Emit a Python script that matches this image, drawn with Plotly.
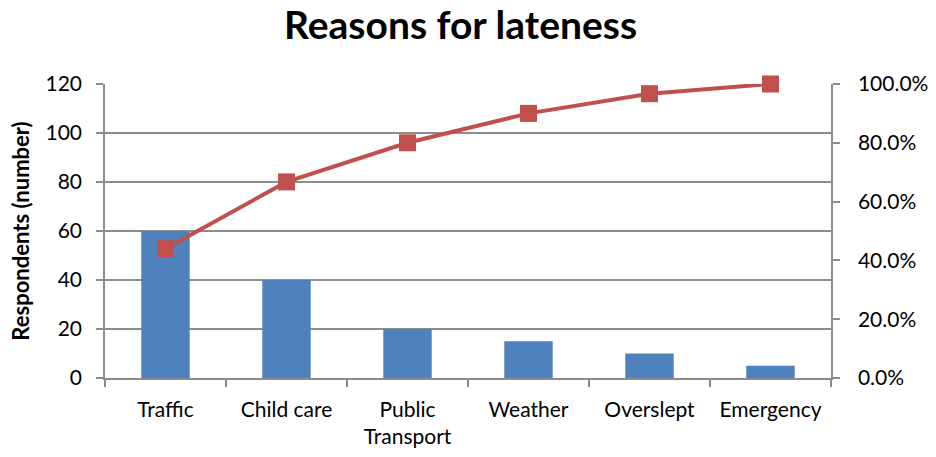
import plotly.graph_objects as go

# Reasons given for arriving late, sorted by frequency (Pareto order)
categories = ["Traffic", "Child care", "Public<br>Transport", "Weather", "Overslept", "Emergency"]
respondents = [60, 40, 20, 15, 10, 5]
cumulative_share = [0.44, 0.667, 0.80, 0.90, 0.967, 1.0]

left_ticks = [0, 20, 40, 60, 80, 100, 120]
right_ticks = [0.0, 0.2, 0.4, 0.6, 0.8, 1.0]

FONT = "Lato, 'Open Sans', sans-serif"
AXIS_GREY = "#8c8c8c"
BAR_BLUE = "#4F81BD"
LINE_RED = "#C0504D"

fig = go.Figure()

fig.add_trace(go.Bar(
    x=categories,
    y=respondents,
    width=0.4,
    marker=dict(color=BAR_BLUE, line=dict(width=0)),
    name="Respondents",
    yaxis="y",
))

fig.add_trace(go.Scatter(
    x=categories,
    y=cumulative_share,
    mode="lines+markers",
    line=dict(color=LINE_RED, width=4),
    marker=dict(symbol="square", size=17, color=LINE_RED),
    name="Cumulative %",
    yaxis="y2",
    cliponaxis=False,
))

fig.update_layout(
    width=936,
    height=457,
    margin=dict(l=105, r=105, t=84, b=79),
    paper_bgcolor="white",
    plot_bgcolor="white",
    showlegend=False,
    font=dict(family=FONT, size=21, color="#000000"),
    title=dict(
        text="<b>Reasons for lateness</b>",
        font=dict(family=FONT, size=39, color="#000000"),
        x=0.492,
        xanchor="center",
        yref="container",
        y=0.975,
        yanchor="top",
    ),
    bargap=0.6,
    xaxis=dict(
        type="category",
        range=[-0.5, 5.5],
        automargin=False,
        showgrid=False,
        showline=True,
        linecolor=AXIS_GREY,
        linewidth=1.5,
        ticks="outside",
        tickson="boundaries",
        ticklen=7,
        tickcolor=AXIS_GREY,
        tickwidth=1.5,
        ticklabelstandoff=12,
        tickfont=dict(family=FONT, size=21),
    ),
    yaxis=dict(
        range=[0, 120],
        tickvals=left_ticks,
        automargin=False,
        showgrid=True,
        gridcolor=AXIS_GREY,
        gridwidth=1.5,
        showline=True,
        linecolor=AXIS_GREY,
        linewidth=1.5,
        ticks="outside",
        ticklen=7,
        tickcolor=AXIS_GREY,
        tickwidth=1.5,
        ticklabelstandoff=10,
        zeroline=False,
        tickfont=dict(family=FONT, size=21),
        title=dict(
            text="<b>Respondents (number)</b>",
            font=dict(family=FONT, size=22),
            standoff=10,
        ),
    ),
    yaxis2=dict(
        overlaying="y",
        side="right",
        range=[0, 1],
        tickvals=right_ticks,
        tickformat=".1%",
        automargin=False,
        showgrid=False,
        showline=True,
        linecolor=AXIS_GREY,
        linewidth=1.5,
        ticks="outside",
        ticklen=7,
        tickcolor=AXIS_GREY,
        tickwidth=1.5,
        ticklabelstandoff=14,
        zeroline=False,
        tickfont=dict(family=FONT, size=21),
    ),
)

fig.write_html("out.html")
